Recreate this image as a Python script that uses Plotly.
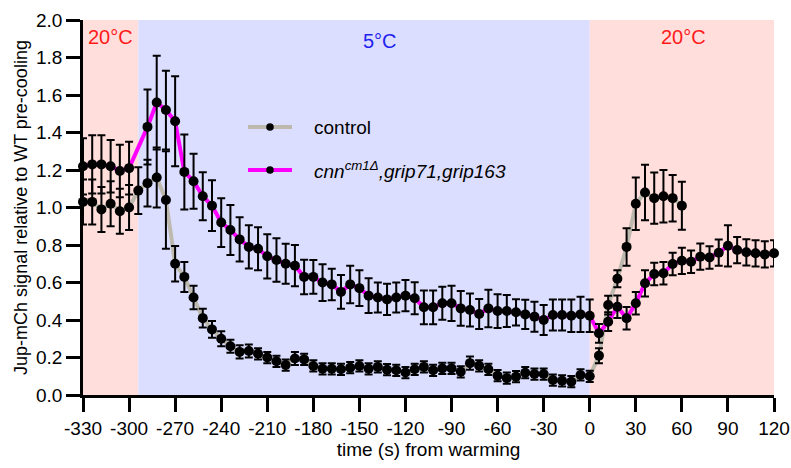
import plotly.graph_objects as go

# ---------------- data ----------------
ctrl_t = [-330, -324, -318, -312, -306, -300, -294, -288, -282, -276, -270, -264, -258, -252,
          -246, -240, -234, -228, -222, -216, -210, -204, -198, -192, -186, -180, -174, -168,
          -162, -156, -150, -144, -138, -132, -126, -120, -114, -108, -102, -96, -90, -84,
          -78, -72, -66, -60, -54, -48, -42, -36, -30, -24, -18, -12, -6, 0,
          6, 12, 18, 24, 30, 36, 42, 48, 54, 60]
ctrl_y = [1.03, 1.03, 0.99, 1.02, 0.98, 1.00, 1.09, 1.13, 1.16, 1.04, 0.70, 0.63, 0.52, 0.41,
          0.35, 0.30, 0.26, 0.23, 0.235, 0.22, 0.20, 0.18, 0.16, 0.195, 0.19, 0.155, 0.14, 0.14,
          0.137, 0.146, 0.155, 0.14, 0.15, 0.135, 0.132, 0.12, 0.137, 0.15, 0.132, 0.142, 0.142, 0.124,
          0.17, 0.156, 0.137, 0.103, 0.09, 0.098, 0.119, 0.112, 0.112, 0.08, 0.076, 0.071, 0.107, 0.10,
          0.21, 0.48, 0.62, 0.79, 1.02, 1.08, 1.05, 1.06, 1.05, 1.01]
ctrl_err = [0.12, 0.12, 0.12, 0.12, 0.12, 0.12, 0.125, 0.125, 0.16, 0.26, 0.095, 0.08, 0.063, 0.05,
            0.045, 0.04, 0.035, 0.035, 0.035, 0.03, 0.03, 0.03, 0.03, 0.035, 0.03, 0.03, 0.03, 0.03,
            0.03, 0.03, 0.03, 0.03, 0.03, 0.03, 0.03, 0.03, 0.03, 0.03, 0.03, 0.03, 0.03, 0.03,
            0.035, 0.03, 0.03, 0.03, 0.03, 0.03, 0.03, 0.03, 0.03, 0.03, 0.03, 0.03, 0.03, 0.03,
            0.04, 0.05, 0.045, 0.1, 0.14, 0.148, 0.137, 0.14, 0.124, 0.128]

mut_t = [-330, -324, -318, -312, -306, -300, -288, -282, -276, -270, -264, -258, -252,
         -246, -240, -234, -228, -222, -216, -210, -204, -198, -192, -186, -180, -174, -168,
         -162, -156, -150, -144, -138, -132, -126, -120, -114, -108, -102, -96, -90, -84,
         -78, -72, -66, -60, -54, -48, -42, -36, -30, -24, -18, -12, -6, 0,
         6, 12, 18, 24, 30, 36, 42, 48, 54, 60, 66, 72, 78, 84, 90, 96, 102, 108, 114, 120]
mut_y = [1.22, 1.23, 1.23, 1.22, 1.195, 1.21, 1.43, 1.56, 1.52, 1.46, 1.19, 1.14, 1.06,
         1.01, 0.92, 0.88, 0.83, 0.79, 0.78, 0.74, 0.72, 0.70, 0.69, 0.63, 0.63, 0.60, 0.59,
         0.55, 0.59, 0.57, 0.53, 0.52, 0.51, 0.52, 0.53, 0.516, 0.468, 0.468, 0.489, 0.489, 0.462,
         0.453, 0.432, 0.462, 0.448, 0.448, 0.441, 0.43, 0.418, 0.40, 0.427, 0.427, 0.423, 0.43, 0.423,
         0.329, 0.391, 0.471, 0.409, 0.489, 0.596, 0.645, 0.649, 0.699, 0.716, 0.711, 0.738, 0.734,
         0.759, 0.796, 0.773, 0.761, 0.756, 0.750, 0.756]
mut_err = [0.15, 0.155, 0.155, 0.14, 0.14, 0.14, 0.2, 0.25, 0.21, 0.24, 0.2, 0.147, 0.128,
           0.135, 0.13, 0.133, 0.118, 0.115, 0.115, 0.118, 0.116, 0.107, 0.11, 0.092, 0.09, 0.098, 0.084,
           0.09, 0.1, 0.095, 0.093, 0.08, 0.083, 0.08, 0.083, 0.085, 0.09, 0.09, 0.088, 0.094, 0.093,
           0.088, 0.08, 0.1, 0.09, 0.085, 0.07, 0.078, 0.08, 0.08, 0.083, 0.083, 0.087, 0.094, 0.087,
           0.05, 0.05, 0.06, 0.06, 0.06, 0.07, 0.06, 0.06, 0.06, 0.07, 0.06, 0.07, 0.06,
           0.07, 0.11, 0.07, 0.07, 0.07, 0.07, 0.07]

x_ticks = [-330, -300, -270, -240, -210, -180, -150, -120, -90, -60, -30, 0, 30, 60, 90, 120]
y_ticks = [0.0, 0.2, 0.4, 0.6, 0.8, 1.0, 1.2, 1.4, 1.6, 1.8, 2.0]
phase_bounds = [(-330, -294), (-294, 0), (0, 120)]
phase_labels = ["20°C", "5°C", "20°C"]
series_names = ["control", "<i>cnn<sup>cm1Δ</sup>,grip71,grip163</i>"]

# ---------------- style ----------------
W, H = 791, 468
# plot area in page pixels: x 83..774, y 20..395
PL, PR, PT, PB = 83, 774, 20, 395
ML, MR, MT, MB = PL, W - PR, PT, H - PB
FONT = "Liberation Sans, Arial, Helvetica, sans-serif"
GREY = "#BDB9AE"
MAG = "#FF00FF"
phase_fill = ["#FFDEDC", "#DCDEFF", "#FFDEDC"]
phase_font = ["#FF1A1A", "#2222F0", "#FF1A1A"]
phase_label_px = [(110, 37), (380, 41), (683, 37)]

def px2paper(px, py):
    return (px - PL) / (PR - PL), (PB - py) / (PB - PT)

fig = go.Figure()

# lines underneath
fig.add_trace(go.Scatter(x=ctrl_t, y=ctrl_y, mode="lines", line=dict(color=GREY, width=4),
                         showlegend=False, cliponaxis=False, hoverinfo="skip"))
fig.add_trace(go.Scatter(x=mut_t, y=mut_y, mode="lines", line=dict(color=MAG, width=4),
                         showlegend=False, cliponaxis=False, hoverinfo="skip"))
# markers + error bars
for t, y, e, nm in [(ctrl_t, ctrl_y, ctrl_err, series_names[0]), (mut_t, mut_y, mut_err, series_names[1])]:
    fig.add_trace(go.Scatter(x=t, y=y, mode="markers", name=nm,
                             marker=dict(color="black", size=10),
                             error_y=dict(type="data", array=e, color="black", thickness=2, width=4),
                             showlegend=False, cliponaxis=False))

shapes = []
annotations = []
for (a, b), label, fc, tc, (lx, ly) in zip(phase_bounds, phase_labels, phase_fill, phase_font, phase_label_px):
    shapes.append(dict(type="rect", xref="x", yref="y", x0=a, x1=b, y0=0, y1=2,
                       fillcolor=fc, line=dict(width=0), layer="below"))
    px, py = px2paper(lx, ly)
    annotations.append(dict(xref="paper", yref="paper", x=px, y=py,
                            text=label, showarrow=False, font=dict(size=20, color=tc, family=FONT),
                            xanchor="center", yanchor="middle"))

# manual legend
for i, (nm, col) in enumerate(zip(series_names, [GREY, MAG])):
    py = 127 + 43 * i
    x0, yy = px2paper(248, py)
    x1, _ = px2paper(292, py)
    shapes.append(dict(type="line", xref="paper", yref="paper", x0=x0, x1=x1, y0=yy, y1=yy,
                       line=dict(color=col, width=4)))
    r = 3.8
    shapes.append(dict(type="circle", xref="paper", yref="paper",
                       x0=px2paper(270 - r, 0)[0], x1=px2paper(270 + r, 0)[0],
                       y0=px2paper(0, py + r)[1], y1=px2paper(0, py - r)[1],
                       fillcolor="black", line=dict(width=0)))
    tx, _ = px2paper(312, py)
    annotations.append(dict(xref="paper", yref="paper", x=tx, y=yy, text=nm, showarrow=False,
                            xanchor="left", yanchor="middle", font=dict(size=19, color="black", family=FONT)))

fig.update_layout(
    width=W, height=H, margin=dict(l=ML, r=MR, t=MT, b=MB, autoexpand=False),
    paper_bgcolor="white", plot_bgcolor="white",
    font=dict(family=FONT, size=19, color="black"),
    shapes=shapes, annotations=annotations, showlegend=False,
)
fig.update_xaxes(range=[-330, 120], tickvals=x_ticks, ticktext=[str(v) for v in x_ticks],
                 automargin=False,
                 showgrid=False, zeroline=False, showline=True, linecolor="black", linewidth=2.5,
                 ticks="outside", ticklen=14, tickwidth=2.5, tickcolor="black",
                 tickfont=dict(size=19), title=dict(text="time (s) from warming", font=dict(size=19), standoff=4))
fig.update_yaxes(range=[0, 2], tickvals=y_ticks, ticktext=[f"{v:.1f}" for v in y_ticks],
                 automargin=False,
                 showgrid=False, zeroline=False, showline=True, linecolor="black", linewidth=2.5,
                 ticks="outside", ticklen=14, tickwidth=2.5, tickcolor="black",
                 tickfont=dict(size=19), title=dict(text="Jup-mCh signal relative to WT pre-cooling",
                                                     font=dict(size=18), standoff=4))

fig.write_html("out.html", config={"displayModeBar": False},
               post_script="document.body.style.margin='0px';document.body.style.overflow='hidden';")
